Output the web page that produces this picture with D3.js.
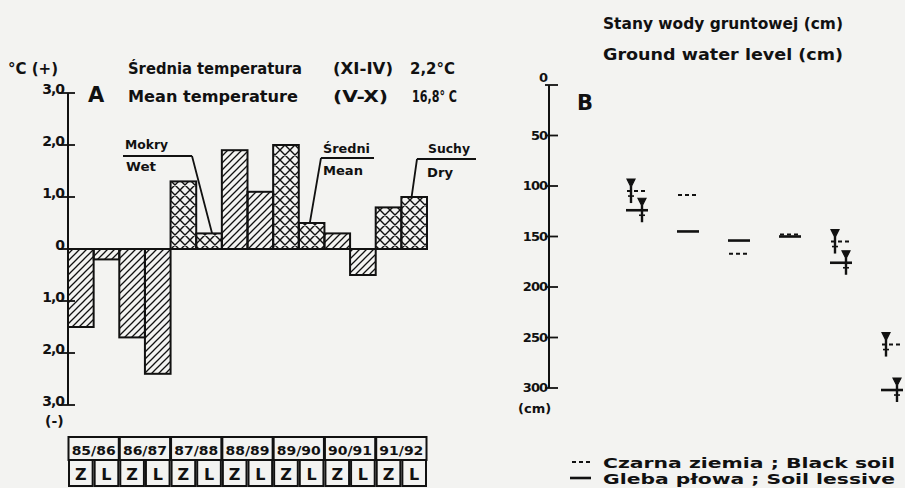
<!DOCTYPE html>
<html><head><meta charset="utf-8">
<script src="https://cdn.jsdelivr.net/npm/d3@7/dist/d3.min.js"></script>
<style>
html,body{margin:0;padding:0;background:#f3f3f1;}
svg{display:block;font-family:"DejaVu Sans",sans-serif;font-weight:bold;}
</style></head>
<body><svg id="c" width="905" height="488"></svg>
<script>
// ---------- Panel A data ----------
const years = ["85/86","86/87","87/88","88/89","89/90","90/91","91/92"];
const seasons = ["Z","L"];
const tempDeviation = [-1.5,-0.2,-1.7,-2.4,1.3,0.3,1.9,1.1,2.0,0.5,0.3,-0.5,0.8,1.0];
const hatchType = ["d","d","d","d","x","x","d","d","x","x","d","d","x","x"];
const yTicksA = [3,2,1,0,-1,-2,-3];
const yTickLabelsA = ["3,0","2,0","1,0","0","1,0","2,0","3,0"];
const annoTop = ["Mokry","Średni","Suchy"];
const annoBottom = ["Wet","Mean","Dry"];
const annoBar = [5,9,13];
// ---------- Panel B data ----------
const gwYears = ["86/87","87/88","88/89","89/90","90/91","91/92"];
const blackSoil = [105,109,167,148,155,257];
const soilLessive = [124,145,154,150,176,302];
const withSymbol = [1,0,0,0,1,1];
const yTicksB = [0,50,100,150,200,250,300];

const svg = d3.select("#c");
const defs = svg.append("defs");
const pd = defs.append("pattern").attr("id","diag").attr("patternUnits","userSpaceOnUse").attr("width",7).attr("height",7);
pd.append("path").attr("d","M-1,1 L1,-1 M0,7 L7,0 M6,8 L8,6").attr("stroke","#111").attr("stroke-width",1.3);
const px = defs.append("pattern").attr("id","cross").attr("patternUnits","userSpaceOnUse").attr("width",10).attr("height",10);
px.append("path").attr("d","M0,10 L10,0 M-1,1 L1,-1 M9,11 L11,9 M0,0 L10,10 M-1,9 L1,11 M9,-1 L11,1").attr("stroke","#111").attr("stroke-width",1.4);

const ink = "#111";
// ---------- Panel A ----------
const cats = [];
years.forEach(y => seasons.forEach(s => cats.push(y + " " + s)));
const xA = d3.scaleBand().domain(cats).range([68, 427]).padding(0);
const yA = d3.scaleLinear().domain([-3, 3]).range([405, 93]);
const bw = xA.bandwidth();

const gA = svg.append("g");
gA.append("line").attr("x1",68).attr("x2",68).attr("y1",yA(3)).attr("y2",yA(-3)).attr("stroke",ink).attr("stroke-width",2);
yTicksA.forEach((t,i) => {
  gA.append("line").attr("x1",60).attr("x2",75).attr("y1",yA(t)).attr("y2",yA(t)).attr("stroke",ink).attr("stroke-width",1.8);
  gA.append("text").attr("x",64).attr("y",yA(t)+1).attr("text-anchor","end").attr("font-size",14)
    .attr("letter-spacing",-1).attr("fill",ink).text(yTickLabelsA[i]);
});
gA.append("text").attr("x",8).attr("y",74).attr("font-size",15).attr("fill",ink).text("°C (+)");
gA.append("text").attr("x",45).attr("y",426).attr("font-size",14).attr("fill",ink).text("(-)");
gA.append("text").attr("x",88).attr("y",102).attr("font-size",21).attr("fill",ink).text("A");

const tA = [
  ["Średnia temperatura",128,74,174],["(XI-IV)",333,74,60],["2,2°C",410,74,45],
  ["Mean temperature",128,102,170],["(V-X)",333,102,55],["16,8° C",412,102,45]
];
tA.forEach(d => gA.append("text").attr("x",d[1]).attr("y",d[2]).attr("font-size",16).attr("fill",ink)
  .attr("textLength",d[3]).attr("lengthAdjust","spacingAndGlyphs").text(d[0]));

gA.selectAll("rect.bar").data(tempDeviation).join("rect").attr("class","bar")
  .attr("x",(d,i)=>xA(cats[i])).attr("width",bw)
  .attr("y",d=>yA(Math.max(0,d))).attr("height",d=>Math.abs(yA(d)-yA(0)))
  .attr("fill",(d,i)=>hatchType[i]==="x"?"url(#cross)":"url(#diag)")
  .attr("stroke",ink).attr("stroke-width",2);
gA.append("line").attr("x1",68).attr("x2",427).attr("y1",yA(0)).attr("y2",yA(0)).attr("stroke",ink).attr("stroke-width",2);

const annoGeom = [
  {tx:125,ty:149,tw:43,bx:126,by:171,bwid:30,ux1:123,ux2:192,uy:156,from:"right",fx:0.62},
  {tx:323,ty:153,tw:47,bx:323,by:175,bwid:40,ux1:321,ux2:374,uy:158,from:"left",fx:0.43},
  {tx:428,ty:153,tw:42,bx:427,by:177,bwid:26,ux1:417,ux2:476,uy:159,from:"left",fx:0.4}
];
annoGeom.forEach((g,i) => {
  gA.append("text").attr("x",g.tx).attr("y",g.ty).attr("font-size",13).attr("fill",ink)
    .attr("textLength",g.tw).attr("lengthAdjust","spacingAndGlyphs").text(annoTop[i]);
  gA.append("text").attr("x",g.bx).attr("y",g.by).attr("font-size",13).attr("fill",ink)
    .attr("textLength",g.bwid).attr("lengthAdjust","spacingAndGlyphs").text(annoBottom[i]);
  const sx = g.from==="right" ? g.ux2 : g.ux1;
  const b = annoBar[i];
  gA.append("path").attr("d",`M${g.ux1},${g.uy}L${g.ux2},${g.uy}M${sx},${g.uy}L${xA(cats[b])+bw*g.fx},${yA(tempDeviation[b])}`)
    .attr("stroke",ink).attr("stroke-width",1.8).attr("fill","none");
});

const tY0 = 437, tY1 = 460, tY2 = 486;
years.forEach(y => {
  const x0 = xA(y+" Z"), x1 = xA(y+" L")+bw;
  gA.append("rect").attr("x",x0+0.5).attr("y",tY0).attr("width",x1-x0-1).attr("height",tY1-tY0)
    .attr("fill","none").attr("stroke",ink).attr("stroke-width",2);
  gA.append("text").attr("x",(x0+x1)/2).attr("y",tY1-5).attr("text-anchor","middle").attr("font-size",13)
    .attr("textLength",44).attr("lengthAdjust","spacingAndGlyphs").attr("fill",ink).text(y);
  seasons.forEach(s => {
    const cx = xA(y+" "+s);
    gA.append("rect").attr("x",cx+1).attr("y",tY1).attr("width",bw-2).attr("height",tY2-tY1)
      .attr("fill","none").attr("stroke",ink).attr("stroke-width",2);
    gA.append("text").attr("x",cx+bw/2).attr("y",tY2-6).attr("text-anchor","middle").attr("font-size",16)
      .attr("fill",ink).text(s);
  });
});

// ---------- Panel B ----------
const gB = svg.append("g");
const xB = d3.scaleBand().domain(gwYears).range([611.5, 917.5]).padding(0);
const yB = d3.scaleLinear().domain([0,300]).range([85, 388]);
gB.append("text").attr("x",603).attr("y",29).attr("font-size",15.5).attr("fill",ink)
  .attr("textLength",240).attr("lengthAdjust","spacingAndGlyphs").text("Stany wody gruntowej (cm)");
gB.append("text").attr("x",603).attr("y",60).attr("font-size",15.5).attr("fill",ink)
  .attr("textLength",240).attr("lengthAdjust","spacingAndGlyphs").text("Ground water level (cm)");
gB.append("line").attr("x1",549).attr("x2",549).attr("y1",yB(0)).attr("y2",yB(300)).attr("stroke",ink).attr("stroke-width",2);
yTicksB.forEach(t => {
  gB.append("line").attr("x1",545).attr("x2",558).attr("y1",yB(t)).attr("y2",yB(t)).attr("stroke",ink).attr("stroke-width",1.8);
  gB.append("text").attr("x",547).attr("y",t===0?yB(t)-3:yB(t)+4).attr("text-anchor","end").attr("font-size",13)
    .attr("letter-spacing",-1).attr("fill",ink).text(t);
});
gB.append("text").attr("x",518).attr("y",413).attr("font-size",13).attr("fill",ink).text("(cm)");
gB.append("text").attr("x",577).attr("y",110).attr("font-size",21).attr("fill",ink).text("B");

function symbol(cx, y){
  gB.append("path").attr("d",`M${cx-4},${y-12}L${cx+4},${y-12}L${cx},${y-4}Z`).attr("fill",ink).attr("stroke",ink).attr("stroke-width",1.2);
  gB.append("line").attr("x1",cx).attr("x2",cx).attr("y1",y-5).attr("y2",y+12).attr("stroke",ink).attr("stroke-width",2.4);
  gB.append("line").attr("x1",cx-3).attr("x2",cx+3).attr("y1",y+5).attr("y2",y+5).attr("stroke",ink).attr("stroke-width",1.6);
}
gwYears.forEach((yr,i) => {
  const c = xB(yr) + xB.bandwidth()/2;
  gB.append("line").attr("x1",c-10).attr("x2",c+11).attr("y1",yB(blackSoil[i])).attr("y2",yB(blackSoil[i]))
    .attr("stroke",ink).attr("stroke-width",2).attr("stroke-dasharray","4,3");
  gB.append("line").attr("x1",c-11).attr("x2",c+11).attr("y1",yB(soilLessive[i])).attr("y2",yB(soilLessive[i]))
    .attr("stroke",ink).attr("stroke-width",2.6);
  if (withSymbol[i]) {
    symbol(c-6, yB(blackSoil[i]));
    symbol(c+5, yB(soilLessive[i]));
  }
});

gB.append("line").attr("x1",572).attr("x2",593).attr("y1",462).attr("y2",462).attr("stroke",ink).attr("stroke-width",2).attr("stroke-dasharray","4,3");
gB.append("line").attr("x1",570).attr("x2",591).attr("y1",478).attr("y2",478).attr("stroke",ink).attr("stroke-width",2.6);
gB.append("text").attr("x",603).attr("y",468).attr("font-size",14).attr("fill",ink)
  .attr("textLength",292).attr("lengthAdjust","spacingAndGlyphs").text("Czarna ziemia ;  Black soil");
gB.append("text").attr("x",603).attr("y",484).attr("font-size",14).attr("fill",ink)
  .attr("textLength",292).attr("lengthAdjust","spacingAndGlyphs").text("Gleba płowa ;  Soil lessive");
</script></body></html>
